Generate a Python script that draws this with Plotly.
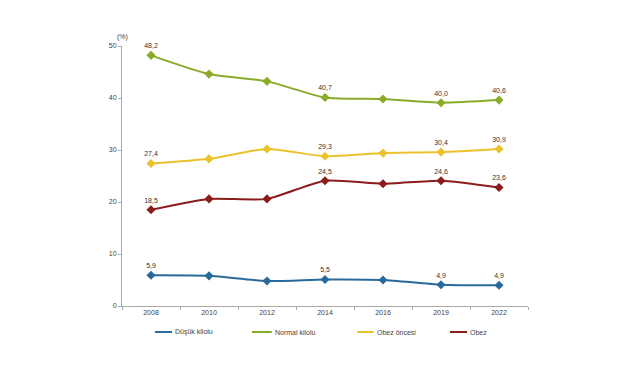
import plotly.graph_objects as go

years = ["2008", "2010", "2012", "2014", "2016", "2019", "2022"]
dusuk = [5.9, 5.8, 4.8, 5.1, 5.0, 4.1, 4.0]
normal = [48.2, 44.6, 43.2, 40.1, 39.8, 39.1, 39.6]
obez_oncesi = [27.4, 28.3, 30.2, 28.8, 29.4, 29.6, 30.2]
obez = [18.5, 20.6, 20.6, 24.1, 23.5, 24.1, 22.8]

labels_dusuk = ["5,9", "", "", "5,5", "", "4,9", "4,9"]
labels_normal = ["48,2", "", "", "40,7", "", "40,0", "40,6"]
labels_oncesi = ["27,4", "", "", "29,3", "", "30,4", "30,9"]
labels_obez = ["18,5", "", "", "24,5", "", "24,6", "23,6"]

series = [
    ("Düşük kilolu", dusuk, labels_dusuk, "#2a6a9a"),
    ("Normal kilolu", normal, labels_normal, "#8aab2a"),
    ("Obez öncesi", obez_oncesi, labels_oncesi, "#ecc22c"),
    ("Obez", obez, labels_obez, "#8c1c1c"),
]
# legend layout (paper coords): line start, line end
legend_pos = [(0.081, 0.123), (0.320, 0.369), (0.579, 0.620), (0.808, 0.850)]
legend_y = -0.1

font = "Liberation Sans, Arial, sans-serif"
fig = go.Figure()
for name, vals, labs, col in series:
    fig.add_trace(go.Scatter(
        x=years, y=vals, mode="lines+markers+text", name=name,
        line=dict(color=col, width=2, shape="spline", smoothing=0.6),
        marker=dict(symbol="diamond", size=7, color=col),
        text=labs, textposition="top center",
        textfont=dict(size=7, color="#333333", family=font),
        showlegend=False, cliponaxis=False,
    ))

shapes = []
annotations = [dict(text="(%)", x=0, y=1.0, xref="paper", yref="paper",
                    xanchor="center", yanchor="bottom", showarrow=False,
                    yshift=3, font=dict(size=7, color="#444444"))]
for (name, _, _, col), (x0, x1) in zip(series, legend_pos):
    shapes.append(dict(type="line", xref="paper", yref="paper", x0=x0, x1=x1,
                       y0=legend_y, y1=legend_y, line=dict(color=col, width=2)))
    annotations.append(dict(text=name, x=x1, y=legend_y, xref="paper", yref="paper",
                            xanchor="left", yanchor="middle", showarrow=False,
                            xshift=1, font=dict(size=7, color="#444444")))

fig.update_layout(
    width=625, height=367,
    margin=dict(l=114, r=105, t=38, b=69),
    paper_bgcolor="white", plot_bgcolor="white",
    font=dict(family=font, size=7, color="#444444"),
    showlegend=False,
    xaxis=dict(
        type="category", showgrid=False, showline=True, linecolor="#aaaaaa",
        linewidth=1, ticks="outside", tickson="boundaries", ticklen=3,
        tickcolor="#aaaaaa", tickfont=dict(size=7, color="#444444"),
        range=[-0.5, 6.5],
    ),
    yaxis=dict(
        range=[0, 50], dtick=10, showgrid=False, showline=True,
        linecolor="#aaaaaa", linewidth=1, ticks="outside", ticklen=3,
        tickcolor="#aaaaaa", tickfont=dict(size=7, color="#444444"),
        zeroline=False,
    ),
    shapes=shapes,
    annotations=annotations,
)
fig.write_html("out.html")
